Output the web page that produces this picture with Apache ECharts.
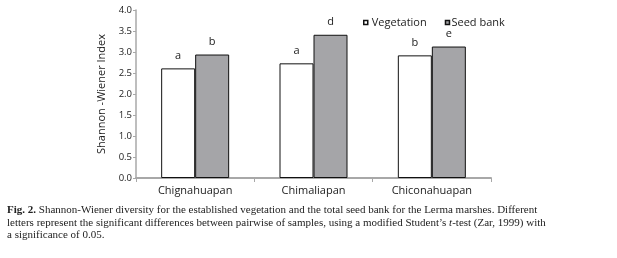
<!DOCTYPE html>
<html>
<head>
<meta charset="utf-8">
<script src="https://cdn.jsdelivr.net/npm/echarts@6/dist/echarts.min.js"></script>
<style>
  html, body { margin: 0; padding: 0; background: #fff; }
  #chart { width: 617px; height: 258px; }
</style>
</head>
<body>
<div id="chart"></div>
<script>
// data
var sites = ['Chignahuapan', 'Chimaliapan', 'Chiconahuapan'];
var vegetation = [2.61, 2.73, 2.92];
var seedBank = [2.94, 3.41, 3.13];
var vegLetters = ['a', 'a', 'b'];
var seedLetters = ['b', 'd', 'e'];

var captionLines = [
    '{b|Fig. 2.} Shannon-Wiener diversity for the established vegetation and the total seed bank for the Lerma marshes. Different',
    'letters represent the significant differences between pairwise of samples, using a modified Student\u2019s {i|t}-test (Zar, 1999) with',
    'a significance of 0.05.'
];

var chart = echarts.init(document.getElementById('chart'));
var sansFont = '"Open Sans", "DejaVu Sans", sans-serif';
var serifFont = '"Liberation Serif", serif';
var serifRich = {
    b: { fontFamily: serifFont, fontWeight: 'bold', fontSize: 11, color: '#222' },
    i: { fontFamily: serifFont, fontStyle: 'italic', fontSize: 11, color: '#222' }
};

function letterLabel(letters) {
    return {
        show: true,
        position: 'top',
        distance: 7,
        fontFamily: sansFont,
        fontSize: 11,
        color: '#222',
        formatter: function (p) { return letters[p.dataIndex]; }
    };
}

var option = {
    animation: false,
    textStyle: { fontFamily: sansFont },
    grid: { left: 136, right: 126, top: 10, bottom: 80 },
    legend: {
        left: 363,
        top: 17,
        padding: 0,
        itemWidth: 4,
        itemHeight: 4,
        itemGap: 18,
        icon: 'rect',
        textStyle: { fontFamily: sansFont, fontSize: 11, color: '#222', padding: [0, 0, 0, -1] },
        data: [
            { name: 'Vegetation', itemStyle: { borderColor: '#111', borderWidth: 1.5 } },
            { name: 'Seed bank', itemStyle: { borderColor: '#111', borderWidth: 1.5 },
              textStyle: { padding: [0, 0, 0, -3] } }
        ]
    },
    xAxis: {
        type: 'category',
        data: sites,
        axisLine: { lineStyle: { color: '#a8a8a8', width: 2 } },
        axisTick: { show: true, length: 4, lineStyle: { color: '#a8a8a8' } },
        axisLabel: { fontSize: 11, color: '#222', margin: 7 }
    },
    yAxis: {
        type: 'value',
        min: 0,
        max: 4,
        interval: 0.5,
        name: 'Shannon -Wiener Index',
        nameLocation: 'middle',
        nameGap: 26,
        nameTextStyle: { fontSize: 11, color: '#222' },
        splitLine: { show: false },
        axisLine: { show: true, lineStyle: { color: '#a8a8a8', width: 1.5 } },
        axisTick: { show: true, length: 3, lineStyle: { color: '#a8a8a8' } },
        axisLabel: {
            fontSize: 9.5,
            color: '#222',
            margin: 4,
            formatter: function (v) { return v.toFixed(1); }
        }
    },
    series: [
        {
            name: 'Vegetation',
            type: 'bar',
            data: vegetation,
            barWidth: 34,
            barGap: '0%',
            itemStyle: { color: '#ffffff', borderColor: '#111', borderWidth: 1 },
            label: letterLabel(vegLetters)
        },
        {
            name: 'Seed bank',
            type: 'bar',
            data: seedBank,
            barWidth: 34,
            itemStyle: { color: '#a5a5a8', borderColor: '#111', borderWidth: 1 },
            label: letterLabel(seedLetters)
        }
    ],
    graphic: captionLines.map(function (line, i) {
        return {
            type: 'text',
            left: 7,
            top: 205 + i * 12.5,
            style: {
                text: line,
                fontFamily: serifFont,
                fontSize: 11,
                fill: '#222',
                rich: serifRich
            }
        };
    })
};

chart.setOption(option);
</script>
</body>
</html>
